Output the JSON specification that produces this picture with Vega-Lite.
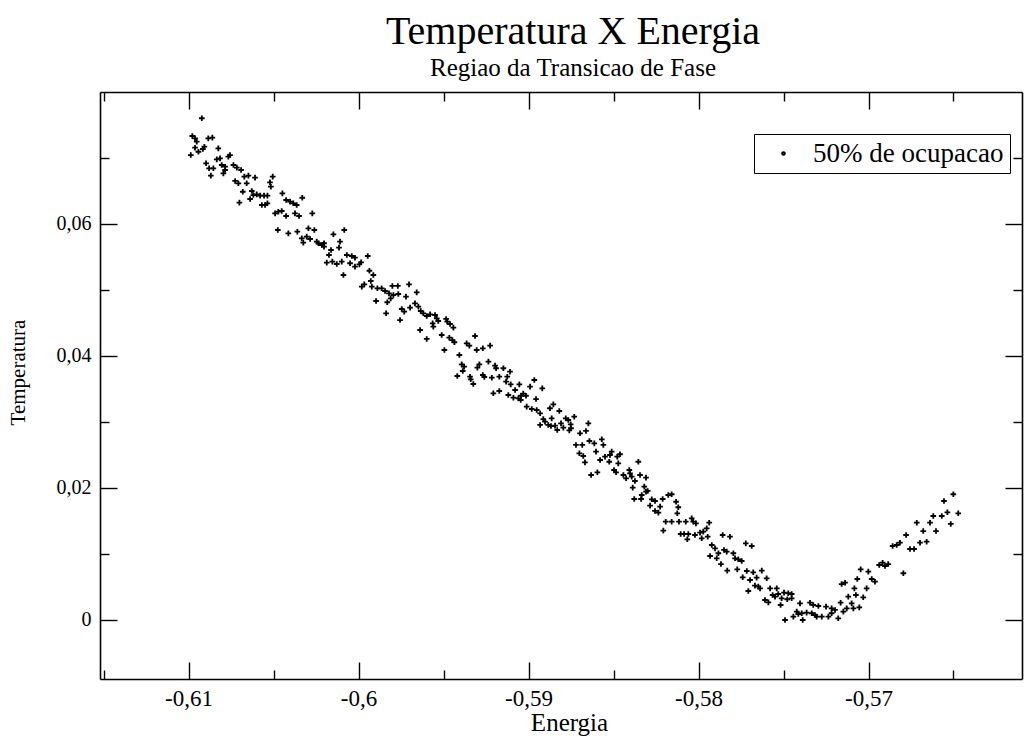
{
  "$schema": "https://vega.github.io/schema/vega-lite/v6.json",
  "width": 922,
  "height": 587,
  "autosize": "none",
  "padding": {"left": 100, "top": 92, "right": 4, "bottom": 57},
  "background": "white",
  "config": {
    "view": {"stroke": null},
    "font": "Liberation Serif",
    "axis": {
      "grid": false,
      "domainColor": "black",
      "domainWidth": 1.6,
      "tickColor": "black",
      "tickWidth": 1.4,
      "labelFont": "Liberation Serif",
      "labelColor": "black",
      "labelFontSize": 23,
      "titleFont": "Liberation Serif",
      "titleFontWeight": "normal",
      "titleColor": "black"
    }
  },
  "title": {
    "text": "Temperatura X Energia",
    "subtitle": "Regiao da Transicao de Fase",
    "font": "Liberation Serif",
    "subtitleFont": "Liberation Serif",
    "fontSize": 40,
    "subtitleFontSize": 25,
    "fontWeight": "normal",
    "color": "black",
    "subtitleColor": "black",
    "anchor": "middle",
    "offset": 10,
    "subtitlePadding": 4,
    "dx": 12
  },
  "data": {
    "values": [
      {"E": -0.60922, "T": 0.07602}, {"E": -0.60978, "T": 0.07333}, {"E": -0.60962, "T": 0.07298}, {"E": -0.60952, "T": 0.07247},
      {"E": -0.60884, "T": 0.07298}, {"E": -0.6086, "T": 0.07308}, {"E": -0.60962, "T": 0.07156}, {"E": -0.60942, "T": 0.07095},
      {"E": -0.60916, "T": 0.07136}, {"E": -0.60907, "T": 0.07171}, {"E": -0.60987, "T": 0.07045}, {"E": -0.60825, "T": 0.07147},
      {"E": -0.60756, "T": 0.07045}, {"E": -0.60766, "T": 0.0702}, {"E": -0.60834, "T": 0.0698}, {"E": -0.60815, "T": 0.06995},
      {"E": -0.60897, "T": 0.0692}, {"E": -0.60805, "T": 0.06894}, {"E": -0.60785, "T": 0.06868}, {"E": -0.60879, "T": 0.06844},
      {"E": -0.60854, "T": 0.06844}, {"E": -0.60869, "T": 0.06732}, {"E": -0.60795, "T": 0.06768}, {"E": -0.60785, "T": 0.06818},
      {"E": -0.60736, "T": 0.06894}, {"E": -0.60716, "T": 0.06853}, {"E": -0.60691, "T": 0.06818}, {"E": -0.60672, "T": 0.06717},
      {"E": -0.60648, "T": 0.06732}, {"E": -0.60609, "T": 0.06702}, {"E": -0.60726, "T": 0.06652}, {"E": -0.60707, "T": 0.06617},
      {"E": -0.60658, "T": 0.06617}, {"E": -0.60505, "T": 0.06717}, {"E": -0.60521, "T": 0.06632}, {"E": -0.60516, "T": 0.06565},
      {"E": -0.60681, "T": 0.06489}, {"E": -0.60628, "T": 0.065}, {"E": -0.60619, "T": 0.06439}, {"E": -0.60599, "T": 0.0645},
      {"E": -0.60579, "T": 0.06429}, {"E": -0.60556, "T": 0.06429}, {"E": -0.60536, "T": 0.06429}, {"E": -0.60638, "T": 0.06379},
      {"E": -0.60701, "T": 0.06323}, {"E": -0.60569, "T": 0.06288}, {"E": -0.6055, "T": 0.06288}, {"E": -0.60536, "T": 0.06314},
      {"E": -0.60448, "T": 0.06465}, {"E": -0.60426, "T": 0.06364}, {"E": -0.60403, "T": 0.06338}, {"E": -0.60384, "T": 0.06314},
      {"E": -0.60364, "T": 0.06288}, {"E": -0.60331, "T": 0.06398}, {"E": -0.60491, "T": 0.06162}, {"E": -0.60472, "T": 0.06186},
      {"E": -0.60452, "T": 0.06197}, {"E": -0.60426, "T": 0.06121}, {"E": -0.60374, "T": 0.06162}, {"E": -0.6035, "T": 0.06121},
      {"E": -0.60272, "T": 0.06162}, {"E": -0.60475, "T": 0.05909}, {"E": -0.60413, "T": 0.05859}, {"E": -0.6036, "T": 0.05883},
      {"E": -0.60295, "T": 0.05935}, {"E": -0.6026, "T": 0.05909}, {"E": -0.60334, "T": 0.05783}, {"E": -0.60305, "T": 0.05808},
      {"E": -0.60325, "T": 0.05717}, {"E": -0.60246, "T": 0.05732}, {"E": -0.60236, "T": 0.05708}, {"E": -0.60285, "T": 0.05773},
      {"E": -0.60216, "T": 0.05682}, {"E": -0.60203, "T": 0.05708}, {"E": -0.60203, "T": 0.05656}, {"E": -0.60148, "T": 0.05844},
      {"E": -0.60084, "T": 0.05909}, {"E": -0.60109, "T": 0.05732}, {"E": -0.60115, "T": 0.05641}, {"E": -0.60162, "T": 0.05606},
      {"E": -0.60174, "T": 0.0553}, {"E": -0.60187, "T": 0.05414}, {"E": -0.60154, "T": 0.05429}, {"E": -0.60128, "T": 0.05394},
      {"E": -0.60099, "T": 0.05429}, {"E": -0.60069, "T": 0.0553}, {"E": -0.6004, "T": 0.05515}, {"E": -0.60021, "T": 0.05489},
      {"E": -0.6005, "T": 0.05405}, {"E": -0.60021, "T": 0.05353}, {"E": -0.59995, "T": 0.05389}, {"E": -0.59985, "T": 0.0542},
      {"E": -0.59946, "T": 0.05515}, {"E": -0.60089, "T": 0.05227}, {"E": -0.59936, "T": 0.05292}, {"E": -0.59913, "T": 0.05227},
      {"E": -0.59928, "T": 0.05136}, {"E": -0.59981, "T": 0.0505}, {"E": -0.59966, "T": 0.05086}, {"E": -0.59922, "T": 0.0505},
      {"E": -0.59889, "T": 0.05026}, {"E": -0.59864, "T": 0.05026}, {"E": -0.59844, "T": 0.04985}, {"E": -0.59801, "T": 0.05061},
      {"E": -0.59769, "T": 0.05061}, {"E": -0.59703, "T": 0.05086}, {"E": -0.59821, "T": 0.0495}, {"E": -0.59795, "T": 0.04924},
      {"E": -0.59766, "T": 0.04939}, {"E": -0.59721, "T": 0.04899}, {"E": -0.59658, "T": 0.04965}, {"E": -0.59897, "T": 0.04833},
      {"E": -0.59831, "T": 0.04814}, {"E": -0.59811, "T": 0.04874}, {"E": -0.59838, "T": 0.04647}, {"E": -0.59756, "T": 0.04545},
      {"E": -0.59746, "T": 0.04712}, {"E": -0.59731, "T": 0.04671}, {"E": -0.59697, "T": 0.04732}, {"E": -0.59668, "T": 0.04798},
      {"E": -0.59648, "T": 0.04747}, {"E": -0.59634, "T": 0.04682}, {"E": -0.59619, "T": 0.04647}, {"E": -0.59599, "T": 0.04606},
      {"E": -0.59579, "T": 0.04632}, {"E": -0.5955, "T": 0.04621}, {"E": -0.5954, "T": 0.04571}, {"E": -0.5956, "T": 0.04444},
      {"E": -0.59638, "T": 0.04394}, {"E": -0.59599, "T": 0.04258}, {"E": -0.59564, "T": 0.04495}, {"E": -0.59531, "T": 0.0453},
      {"E": -0.59485, "T": 0.04561}, {"E": -0.59478, "T": 0.0452}, {"E": -0.59462, "T": 0.04485}, {"E": -0.59442, "T": 0.04429},
      {"E": -0.59511, "T": 0.04318}, {"E": -0.59495, "T": 0.04091}, {"E": -0.59466, "T": 0.04277}, {"E": -0.59448, "T": 0.04242},
      {"E": -0.59436, "T": 0.04208}, {"E": -0.59364, "T": 0.04192}, {"E": -0.59348, "T": 0.04156}, {"E": -0.59315, "T": 0.04303},
      {"E": -0.59305, "T": 0.04091}, {"E": -0.59269, "T": 0.04117}, {"E": -0.59226, "T": 0.04156}, {"E": -0.59407, "T": 0.04015},
      {"E": -0.59393, "T": 0.03874}, {"E": -0.59379, "T": 0.03838}, {"E": -0.59387, "T": 0.03773}, {"E": -0.59419, "T": 0.03697},
      {"E": -0.59344, "T": 0.03686}, {"E": -0.5934, "T": 0.03647}, {"E": -0.59325, "T": 0.03576}, {"E": -0.59289, "T": 0.03874},
      {"E": -0.59301, "T": 0.03823}, {"E": -0.59236, "T": 0.03914}, {"E": -0.59269, "T": 0.03712}, {"E": -0.5926, "T": 0.03682},
      {"E": -0.59216, "T": 0.03671}, {"E": -0.59197, "T": 0.03853}, {"E": -0.59191, "T": 0.03814}, {"E": -0.59172, "T": 0.03686},
      {"E": -0.59148, "T": 0.03814}, {"E": -0.59125, "T": 0.03686}, {"E": -0.59109, "T": 0.03762}, {"E": -0.59132, "T": 0.03611},
      {"E": -0.59207, "T": 0.03435}, {"E": -0.59172, "T": 0.0347}, {"E": -0.59105, "T": 0.03571}, {"E": -0.59079, "T": 0.03485},
      {"E": -0.59054, "T": 0.03571}, {"E": -0.59119, "T": 0.03409}, {"E": -0.59089, "T": 0.03368}, {"E": -0.5906, "T": 0.03359},
      {"E": -0.59044, "T": 0.03398}, {"E": -0.59031, "T": 0.03429}, {"E": -0.59015, "T": 0.03398}, {"E": -0.59046, "T": 0.03333},
      {"E": -0.58991, "T": 0.03535}, {"E": -0.58966, "T": 0.03636}, {"E": -0.58919, "T": 0.0351}, {"E": -0.58956, "T": 0.03348},
      {"E": -0.59011, "T": 0.03232}, {"E": -0.58981, "T": 0.03197}, {"E": -0.58952, "T": 0.03182}, {"E": -0.58932, "T": 0.03132},
      {"E": -0.58874, "T": 0.03208}, {"E": -0.58854, "T": 0.03268}, {"E": -0.58913, "T": 0.03045}, {"E": -0.58903, "T": 0.03005},
      {"E": -0.58932, "T": 0.02955}, {"E": -0.58884, "T": 0.02955}, {"E": -0.58864, "T": 0.03056}, {"E": -0.58819, "T": 0.03167},
      {"E": -0.58868, "T": 0.02939}, {"E": -0.58844, "T": 0.02944}, {"E": -0.58831, "T": 0.02879}, {"E": -0.58809, "T": 0.0298},
      {"E": -0.58795, "T": 0.02914}, {"E": -0.58781, "T": 0.03056}, {"E": -0.58766, "T": 0.0303}, {"E": -0.58752, "T": 0.02965},
      {"E": -0.5875, "T": 0.02905}, {"E": -0.58731, "T": 0.0308}, {"E": -0.5876, "T": 0.02874}, {"E": -0.58648, "T": 0.0298},
      {"E": -0.58662, "T": 0.02864}, {"E": -0.58697, "T": 0.02829}, {"E": -0.58721, "T": 0.02652}, {"E": -0.58684, "T": 0.02652},
      {"E": -0.58642, "T": 0.02712}, {"E": -0.58613, "T": 0.02677}, {"E": -0.58569, "T": 0.02738}, {"E": -0.5856, "T": 0.02652},
      {"E": -0.58701, "T": 0.02526}, {"E": -0.58678, "T": 0.02485}, {"E": -0.58668, "T": 0.02389}, {"E": -0.58603, "T": 0.0255},
      {"E": -0.58579, "T": 0.02424}, {"E": -0.5855, "T": 0.02474}, {"E": -0.58521, "T": 0.025}, {"E": -0.58511, "T": 0.0255},
      {"E": -0.58478, "T": 0.02474}, {"E": -0.58462, "T": 0.02511}, {"E": -0.58525, "T": 0.02398}, {"E": -0.58472, "T": 0.02374},
      {"E": -0.58497, "T": 0.02273}, {"E": -0.58485, "T": 0.02238}, {"E": -0.58632, "T": 0.02197}, {"E": -0.58595, "T": 0.02238},
      {"E": -0.58354, "T": 0.02398}, {"E": -0.58442, "T": 0.02197}, {"E": -0.58426, "T": 0.02147}, {"E": -0.58407, "T": 0.02273},
      {"E": -0.58403, "T": 0.02223}, {"E": -0.58393, "T": 0.02171}, {"E": -0.58374, "T": 0.02106}, {"E": -0.58344, "T": 0.02197},
      {"E": -0.58309, "T": 0.02156}, {"E": -0.58387, "T": 0.02005}, {"E": -0.58319, "T": 0.0202}, {"E": -0.58309, "T": 0.01944},
      {"E": -0.58299, "T": 0.01955}, {"E": -0.58378, "T": 0.01833}, {"E": -0.58338, "T": 0.01833}, {"E": -0.58334, "T": 0.01894},
      {"E": -0.58275, "T": 0.01829}, {"E": -0.58256, "T": 0.01803}, {"E": -0.58211, "T": 0.01833}, {"E": -0.58178, "T": 0.01894},
      {"E": -0.58158, "T": 0.01905}, {"E": -0.58132, "T": 0.01792}, {"E": -0.58285, "T": 0.01732}, {"E": -0.58256, "T": 0.01652},
      {"E": -0.58236, "T": 0.01626}, {"E": -0.58226, "T": 0.01717}, {"E": -0.58119, "T": 0.01708}, {"E": -0.58125, "T": 0.01617},
      {"E": -0.58193, "T": 0.01489}, {"E": -0.58158, "T": 0.01489}, {"E": -0.58115, "T": 0.01489}, {"E": -0.58075, "T": 0.01489},
      {"E": -0.5804, "T": 0.01541}, {"E": -0.58031, "T": 0.01489}, {"E": -0.58015, "T": 0.01465}, {"E": -0.58207, "T": 0.01353},
      {"E": -0.58105, "T": 0.01303}, {"E": -0.58085, "T": 0.01303}, {"E": -0.5806, "T": 0.01303}, {"E": -0.58066, "T": 0.01223},
      {"E": -0.58021, "T": 0.01288}, {"E": -0.57991, "T": 0.01323}, {"E": -0.57981, "T": 0.01238}, {"E": -0.57972, "T": 0.01338},
      {"E": -0.57952, "T": 0.01389}, {"E": -0.57946, "T": 0.01262}, {"E": -0.57937, "T": 0.01474}, {"E": -0.57858, "T": 0.01288},
      {"E": -0.57815, "T": 0.01262}, {"E": -0.57922, "T": 0.01136}, {"E": -0.57903, "T": 0.01086}, {"E": -0.57883, "T": 0.01011},
      {"E": -0.57932, "T": 0.0097}, {"E": -0.57893, "T": 0.00935}, {"E": -0.5785, "T": 0.01061}, {"E": -0.57834, "T": 0.01035},
      {"E": -0.57795, "T": 0.01011}, {"E": -0.57785, "T": 0.00935}, {"E": -0.57766, "T": 0.0092}, {"E": -0.57746, "T": 0.00894},
      {"E": -0.57722, "T": 0.01162}, {"E": -0.57687, "T": 0.01121}, {"E": -0.57868, "T": 0.00848}, {"E": -0.57831, "T": 0.00747},
      {"E": -0.57772, "T": 0.00768}, {"E": -0.5774, "T": 0.00647}, {"E": -0.57716, "T": 0.00742}, {"E": -0.57678, "T": 0.00723},
      {"E": -0.57697, "T": 0.00606}, {"E": -0.57658, "T": 0.00641}, {"E": -0.57628, "T": 0.00747}, {"E": -0.57599, "T": 0.00632},
      {"E": -0.57668, "T": 0.0052}, {"E": -0.57648, "T": 0.00505}, {"E": -0.57638, "T": 0.0048}, {"E": -0.57707, "T": 0.00439},
      {"E": -0.57579, "T": 0.0048}, {"E": -0.5754, "T": 0.0048}, {"E": -0.57609, "T": 0.00303}, {"E": -0.57589, "T": 0.00268},
      {"E": -0.57564, "T": 0.00379}, {"E": -0.5755, "T": 0.00353}, {"E": -0.57531, "T": 0.00394}, {"E": -0.57497, "T": 0.00414},
      {"E": -0.57472, "T": 0.00405}, {"E": -0.57452, "T": 0.00394}, {"E": -0.57517, "T": 0.00227}, {"E": -0.57478, "T": 0.00314},
      {"E": -0.57452, "T": 0.00329}, {"E": -0.57511, "T": 0.00329}, {"E": -0.57403, "T": 0.00253}, {"E": -0.57344, "T": 0.00262},
      {"E": -0.57325, "T": 0.00227}, {"E": -0.57295, "T": 0.00212}, {"E": -0.57422, "T": 0.00126}, {"E": -0.57413, "T": 0.00091},
      {"E": -0.57393, "T": 0.00102}, {"E": -0.57364, "T": 0.00111}, {"E": -0.57334, "T": 0.00102}, {"E": -0.57315, "T": 0.00076},
      {"E": -0.57305, "T": 0.0005}, {"E": -0.57442, "T": 0.0005}, {"E": -0.57387, "T": 0.0}, {"E": -0.57491, "T": 0.0},
      {"E": -0.56501, "T": 0.01905}, {"E": -0.56556, "T": 0.01803}, {"E": -0.56472, "T": 0.01617}, {"E": -0.56536, "T": 0.01632},
      {"E": -0.56569, "T": 0.01576}, {"E": -0.56619, "T": 0.01576}, {"E": -0.56516, "T": 0.01455}, {"E": -0.56638, "T": 0.01474},
      {"E": -0.56716, "T": 0.01474}, {"E": -0.56678, "T": 0.01348}, {"E": -0.56603, "T": 0.01348}, {"E": -0.56779, "T": 0.01288},
      {"E": -0.56815, "T": 0.01171}, {"E": -0.56834, "T": 0.01136}, {"E": -0.56858, "T": 0.01121}, {"E": -0.56697, "T": 0.01171},
      {"E": -0.56658, "T": 0.01186}, {"E": -0.56756, "T": 0.01076}, {"E": -0.56732, "T": 0.01076}, {"E": -0.56937, "T": 0.00833},
      {"E": -0.56917, "T": 0.00868}, {"E": -0.56903, "T": 0.00818}, {"E": -0.56884, "T": 0.00848}, {"E": -0.57046, "T": 0.00768},
      {"E": -0.57001, "T": 0.00732}, {"E": -0.56795, "T": 0.00708}, {"E": -0.57066, "T": 0.00621}, {"E": -0.56981, "T": 0.00621},
      {"E": -0.56962, "T": 0.0058}, {"E": -0.57158, "T": 0.00545}, {"E": -0.57138, "T": 0.00565}, {"E": -0.57083, "T": 0.0048},
      {"E": -0.57011, "T": 0.0048}, {"E": -0.57119, "T": 0.00353}, {"E": -0.57074, "T": 0.00379}, {"E": -0.57031, "T": 0.00344},
      {"E": -0.57164, "T": 0.00262}, {"E": -0.57099, "T": 0.00253}, {"E": -0.57128, "T": 0.00177}, {"E": -0.57089, "T": 0.00177},
      {"E": -0.57054, "T": 0.00192}, {"E": -0.5725, "T": 0.00202}, {"E": -0.57217, "T": 0.00177}, {"E": -0.57197, "T": 0.00152},
      {"E": -0.57275, "T": 0.0005}, {"E": -0.57236, "T": 0.0005}, {"E": -0.57217, "T": 0.00102}, {"E": -0.57178, "T": 0.00026},
      {"E": -0.57148, "T": 0.00126}
    ]
  },
  "layer": [
    {
      "mark": {"type": "point", "shape": "M-1,0L1,0M0,-1L0,1", "filled": false, "strokeWidth": 1.8, "size": 32, "opacity": 1},
      "encoding": {
        "x": {
          "field": "E", "type": "quantitative",
          "scale": {"domain": [-0.61521, -0.56097], "nice": false, "zero": false},
          "axis": {
            "orient": "bottom",
            "values": [-0.61, -0.6, -0.59, -0.58, -0.57],
            "ticks": false,
            "labelPadding": 8,
            "labelBaseline": "top",
            "labelExpr": "replace(toString(datum.value), '.', ',')",
            "title": "Energia",
            "titleFontSize": 25,
            "titleX": 469,
            "titleY": 43,
            "titleAlign": "center",
            "titleBaseline": "middle"
          }
        },
        "y": {
          "field": "T", "type": "quantitative",
          "scale": {"domain": [-0.00894, 0.08], "nice": false, "zero": false},
          "axis": {
            "orient": "left",
            "values": [0, 0.02, 0.04, 0.06],
            "ticks": false,
            "labelPadding": 9,
            "labelFontSize": 20,
            "labelExpr": "replace(toString(datum.value), '.', ',')",
            "title": "Temperatura",
            "titleFontSize": 21,
            "titleAngle": -90,
            "titleX": -82,
            "titleY": 280,
            "titleAlign": "center",
            "titleBaseline": "middle"
          }
        },
        "color": {
          "datum": "50% de ocupacao",
          "type": "nominal",
          "scale": {"range": ["black"]},
          "legend": {
            "title": null,
            "orient": "none",
            "legendX": 654,
            "legendY": 42,
            "strokeColor": "black",
            "fillColor": "white",
            "padding": 6,
            "symbolType": "circle",
            "symbolSize": 7,
            "symbolFillColor": "black",
            "symbolStrokeColor": "black",
            "symbolStrokeWidth": 2,
            "symbolOffset": 10,
            "labelOffset": 16,
            "labelFont": "Liberation Serif",
            "labelFontSize": 27,
            "labelColor": "black",
            "labelLimit": 400
          }
        }
      }
    },
    {
      "mark": {"type": "point", "opacity": 0},
      "encoding": {
        "x": {"field": "E", "type": "quantitative", "scale": {"domain": [-0.61521, -0.56097], "nice": false, "zero": false},
          "axis": {"orient": "bottom", "values": [-0.61, -0.6, -0.59, -0.58, -0.57], "tickSize": -17, "labels": false, "domain": false, "title": null}},
        "y": {"field": "T", "type": "quantitative", "scale": {"domain": [-0.00894, 0.08], "nice": false, "zero": false},
          "axis": {"orient": "left", "values": [0, 0.02, 0.04, 0.06], "tickSize": -17, "labels": false, "domain": false, "title": null}}
      }
    },
    {
      "mark": {"type": "point", "opacity": 0},
      "encoding": {
        "x": {"field": "E", "type": "quantitative", "scale": {"domain": [-0.61521, -0.56097], "nice": false, "zero": false},
          "axis": {"orient": "top", "values": [-0.61, -0.6, -0.59, -0.58, -0.57], "tickSize": -17, "labels": false, "domain": true, "title": null}},
        "y": {"field": "T", "type": "quantitative", "scale": {"domain": [-0.00894, 0.08], "nice": false, "zero": false},
          "axis": {"orient": "right", "values": [0, 0.02, 0.04, 0.06], "tickSize": -17, "labels": false, "domain": true, "title": null}}
      }
    },
    {
      "mark": {"type": "point", "opacity": 0},
      "encoding": {
        "x": {"field": "E", "type": "quantitative", "scale": {"domain": [-0.61521, -0.56097], "nice": false, "zero": false},
          "axis": {"orient": "bottom", "values": [-0.615, -0.605, -0.595, -0.585, -0.575, -0.565], "tickSize": -9, "labels": false, "domain": false, "title": null}},
        "y": {"field": "T", "type": "quantitative", "scale": {"domain": [-0.00894, 0.08], "nice": false, "zero": false},
          "axis": {"orient": "left", "values": [0.01, 0.03, 0.05, 0.07], "tickSize": -9, "labels": false, "domain": false, "title": null}}
      }
    },
    {
      "mark": {"type": "point", "opacity": 0},
      "encoding": {
        "x": {"field": "E", "type": "quantitative", "scale": {"domain": [-0.61521, -0.56097], "nice": false, "zero": false},
          "axis": {"orient": "top", "values": [-0.615, -0.605, -0.595, -0.585, -0.575, -0.565], "tickSize": -9, "labels": false, "domain": false, "title": null}},
        "y": {"field": "T", "type": "quantitative", "scale": {"domain": [-0.00894, 0.08], "nice": false, "zero": false},
          "axis": {"orient": "right", "values": [0.01, 0.03, 0.05, 0.07], "tickSize": -9, "labels": false, "domain": false, "title": null}}
      }
    }
  ],
  "resolve": {"axis": {"x": "independent", "y": "independent"}}
}
